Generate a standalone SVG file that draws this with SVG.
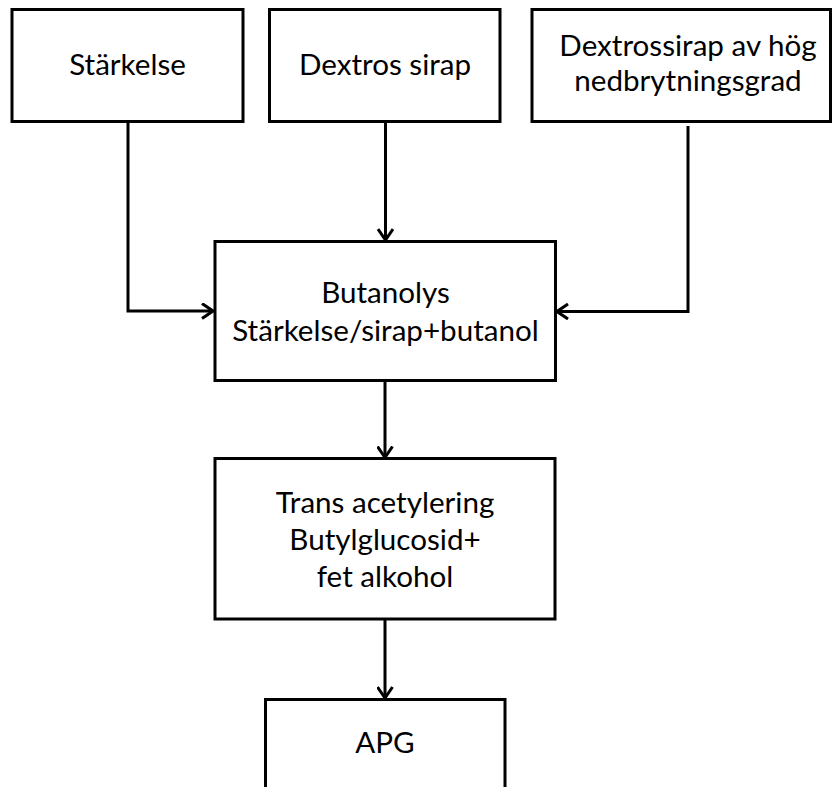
<svg xmlns="http://www.w3.org/2000/svg" width="832" height="787" viewBox="0 0 832 787">
<style>
.box{fill:#fff;stroke:#000;stroke-width:3}
.t{font-family:Lato,"Open Sans","Liberation Sans",sans-serif;font-size:29.6px;fill:#000;text-anchor:middle}
.c{fill:none;stroke:#000;stroke-width:3}
</style>
<defs>
<marker id="ah" viewBox="0 0 13 17" refX="12" refY="8.5" markerWidth="13" markerHeight="17" markerUnits="userSpaceOnUse" orient="auto">
<path d="M1,1 L12,8.5 L1,16" fill="none" stroke="#000" stroke-width="3"/>
</marker>
</defs>
<rect width="832" height="787" fill="#fff"/>
<g id="connectors">
<path class="c" d="M128,122 V311 H213" marker-end="url(#ah)"/>
<path class="c" d="M385.5,122 V240" marker-end="url(#ah)"/>
<path class="c" d="M688,126 V311.5 H557" marker-end="url(#ah)"/>
<path class="c" d="M385,381 V457.5" marker-end="url(#ah)"/>
<path class="c" d="M385,619 V698" marker-end="url(#ah)"/>
</g>
<g id="starkelse">
<rect class="box" x="12" y="9.5" width="231" height="112"/>
<text class="t" x="127.5" y="75">Stärkelse</text>
</g>
<g id="dextros">
<rect class="box" x="269.5" y="9.5" width="230.5" height="112"/>
<text class="t" x="385" y="75">Dextros sirap</text>
</g>
<g id="dextrossirap">
<rect class="box" x="532" y="9.5" width="298.5" height="112"/>
<text class="t" x="688" y="56">Dextrossirap av hög</text>
<text class="t" x="688" y="91">nedbrytningsgrad</text>
</g>
<g id="butanolys">
<rect class="box" x="215" y="241.5" width="340.5" height="139"/>
<text class="t" x="385.5" y="302.5">Butanolys</text>
<text class="t" x="385.5" y="340.5">Stärkelse/sirap+butanol</text>
</g>
<g id="trans">
<rect class="box" x="215" y="458.5" width="340" height="160.5"/>
<text class="t" x="385" y="512.5">Trans acetylering</text>
<text class="t" x="385" y="550">Butylglucosid+</text>
<text class="t" x="385" y="587">fet alkohol</text>
</g>
<g id="apg">
<rect class="box" x="265.5" y="699.5" width="239.5" height="100"/>
<text class="t" x="385" y="753">APG</text>
</g>
</svg>
